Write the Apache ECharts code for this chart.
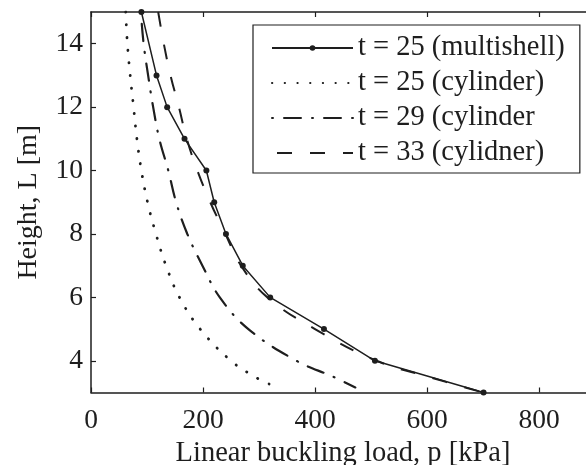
<!DOCTYPE html>
<html>
<head>
<meta charset="utf-8">
<script src="https://cdn.jsdelivr.net/npm/echarts@6/dist/echarts.min.js"></script>
<style>
html,body{margin:0;padding:0;background:#fff;}
#chart{width:586px;height:465px;}
</style>
</head>
<body>
<div id="chart"></div>
<script>
// ---- data ----
const seriesNames = ['t = 25 (multishell)', 't = 25 (cylinder)', 't = 29 (cylinder', 't = 33 (cylidner)'];

const heightMulti = [15, 13, 12, 11, 10, 9, 8, 7, 6, 5, 4, 3];
const loadMulti   = [90, 117, 136, 167, 206, 220, 241, 271, 320, 416, 507, 701];

const heightCyl25 = [15, 14, 13, 12, 11, 10, 9, 8, 7, 6, 5, 4, 3.5, 3.27];
const loadCyl25   = [62, 65, 70, 76, 82, 90, 101, 116, 134, 158, 195, 250, 292, 318];

const heightCyl29 = [15, 14, 13, 12, 11, 10, 9, 8, 7, 6, 5, 4, 3.5, 3.16];
const loadCyl29   = [89, 94, 102, 111, 122, 138, 152, 172, 199, 230, 281, 367, 432, 472];

const heightCyl33 = [15, 14, 13, 12, 11, 10, 9, 8, 7, 6, 5, 4, 3.5, 3];
const loadCyl33   = [120, 130, 142, 157, 171, 190, 213, 240, 268, 315, 400, 510, 602, 700];

const xTicks = [0, 200, 400, 600, 800];
const yTicks = [4, 6, 8, 10, 12, 14];

function pairs(xs, ys) { return xs.map((x, i) => [x, ys[i]]); }

const ink = '#1e1e1e';
const font = 'Liberation Serif';
const noMarker = {color: 'rgba(0,0,0,0)', borderColor: 'rgba(0,0,0,0)', borderWidth: 0};

const chart = echarts.init(document.getElementById('chart'), null, {renderer: 'canvas'});

const axisCommonX = {
  type: 'value', min: 0, max: 900, interval: 200,
  axisLine: {show: true, lineStyle: {color: ink, width: 1.5}},
  axisTick: {show: true, inside: true, length: 5, lineStyle: {color: ink, width: 1.2}},
  splitLine: {show: false}
};

const option = {
  backgroundColor: '#fff',
  animation: false,
  grid: {left: 91, top: 12, right: -9, bottom: 72.5, containLabel: false, outerBoundsMode: 'none'},
  legend: {
    show: true,
    data: [
      {name: seriesNames[0]},
      {name: seriesNames[1], itemStyle: noMarker},
      {name: seriesNames[2], itemStyle: noMarker},
      {name: seriesNames[3], itemStyle: noMarker}
    ],
    orient: 'vertical',
    left: 253, top: 25,
    padding: [8, 15, 5, 18],
    itemWidth: 81, itemHeight: 7, itemGap: 5,
    borderColor: ink, borderWidth: 1.2, borderRadius: 0,
    backgroundColor: '#fff',
    textStyle: {fontFamily: font, fontSize: 28.5, color: ink, lineHeight: 30}
  },
  xAxis: [
    Object.assign({}, axisCommonX, {
      position: 'bottom',
      name: 'Linear buckling load, p [kPa]',
      nameLocation: 'middle', nameGap: 46,
      nameTextStyle: {fontFamily: font, fontSize: 28.5, color: ink},
      axisLabel: {show: true, margin: 14, fontFamily: font, fontSize: 27.5, color: ink,
        customValues: xTicks}
    }),
    Object.assign({}, axisCommonX, {
      position: 'top',
      axisLabel: {show: false}
    })
  ],
  yAxis: {
    type: 'value', min: 3, max: 15,
    name: 'Height, L [m]',
    nameLocation: 'middle', nameGap: 48,
    nameTextStyle: {fontFamily: font, fontSize: 28, color: ink},
    axisLine: {show: true, lineStyle: {color: ink, width: 1.5}},
    axisTick: {show: true, inside: true, length: 5, customValues: yTicks, lineStyle: {color: ink, width: 1.2}},
    axisLabel: {show: true, margin: 8, fontFamily: font, fontSize: 27.5, color: ink, customValues: yTicks},
    splitLine: {show: false}
  },
  series: [
    {
      name: seriesNames[0], type: 'line', xAxisIndex: 0,
      data: pairs(loadMulti, heightMulti),
      symbol: 'circle', symbolSize: 6, showSymbol: true,
      itemStyle: {color: ink},
      lineStyle: {color: ink, width: 1.5, type: 'solid'},
      z: 5
    },
    {
      name: seriesNames[1], type: 'line', xAxisIndex: 0,
      data: pairs(loadCyl25, heightCyl25),
      symbol: 'none', smooth: 0.4,
      itemStyle: {color: ink},
      lineStyle: {color: ink, width: 2.8, type: [0.3, 12.4], cap: 'round'}
    },
    {
      name: seriesNames[2], type: 'line', xAxisIndex: 0,
      data: pairs(loadCyl29, heightCyl29),
      symbol: 'none', smooth: 0.4,
      itemStyle: {color: ink},
      lineStyle: {color: ink, width: 2.2, type: [17, 11, 1, 11], dashOffset: 28, cap: 'round'}
    },
    {
      name: seriesNames[3], type: 'line', xAxisIndex: 0,
      data: pairs(loadCyl33, heightCyl33),
      symbol: 'none', smooth: 0.4,
      itemStyle: {color: ink},
      lineStyle: {color: ink, width: 2, type: [15, 18]}
    }
  ]
};
chart.setOption(option);
</script>
</body>
</html>
